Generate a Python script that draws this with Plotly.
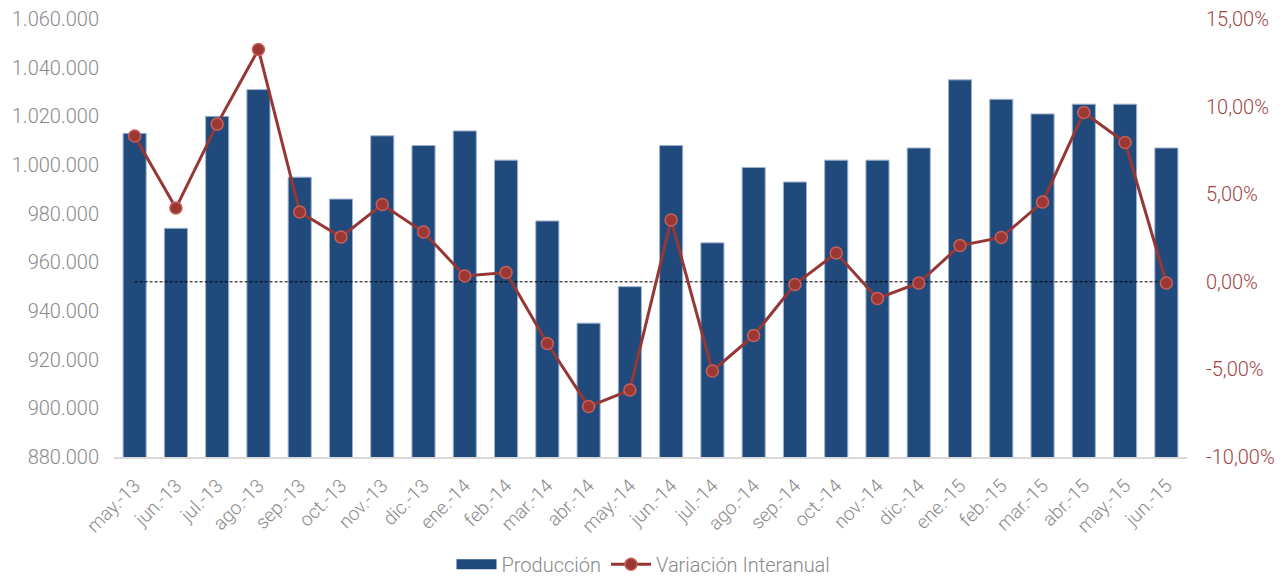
import plotly.graph_objects as go

categories = ["may.-13", "jun.-13", "jul.-13", "ago.-13", "sep.-13", "oct.-13", "nov.-13", "dic.-13",
              "ene.-14", "feb.-14", "mar.-14", "abr.-14", "may.-14", "jun.-14", "jul.-14", "ago.-14",
              "sep.-14", "oct.-14", "nov.-14", "dic.-14", "ene.-15", "feb.-15", "mar.-15", "abr.-15",
              "may.-15", "jun.-15"]

produccion = [1013000, 974000, 1020000, 1031000, 995000, 986000, 1012000, 1008000,
              1014000, 1002000, 977000, 935000, 950000, 1008000, 968000, 999000,
              993000, 1002000, 1002000, 1007000, 1035000, 1027000, 1021000, 1025000,
              1025000, 1007000]

variacion = [0.0832, 0.0421, 0.0900, 0.1326, 0.0398, 0.0256, 0.0441, 0.0284,
             0.0033, 0.0053, -0.0352, -0.0712, -0.0618, 0.0353, -0.0509, -0.0307,
             -0.0015, 0.0164, -0.0095, -0.0007, 0.0207, 0.0253, 0.0455, 0.0966,
             0.0795, -0.0007]

left_ticks = [880000, 900000, 920000, 940000, 960000, 980000, 1000000, 1020000, 1040000, 1060000]
right_ticks = [-0.10, -0.05, 0.0, 0.05, 0.10, 0.15]

zero_ref = [0.0 for _ in categories]


def fmt_thousands(v):
    return f"{v:,.0f}".replace(",", ".")


def fmt_pct(v):
    return f"{v * 100:.2f}".replace(".", ",") + "%"


FONT = "Roboto"
GRAY = "#8a8a8a"
RED_TXT = "#a0443f"
BLUE = "#214a7c"

fig = go.Figure()

fig.add_trace(go.Bar(
    x=categories, y=produccion, name="Producción", showlegend=False,
    marker=dict(color=BLUE, line=dict(color="#9fb4cf", width=1)),
    yaxis="y",
))

# legend proxy for the bar series (wide rectangle swatch)
fig.add_trace(go.Scatter(
    x=[None], y=[None], name="Producción", mode="lines",
    line=dict(color=BLUE, width=14), yaxis="y", hoverinfo="skip",
))

fig.add_trace(go.Scatter(
    x=categories, y=zero_ref, mode="lines", yaxis="y2", showlegend=False,
    line=dict(color="#000000", width=1, dash="3px,2px"), hoverinfo="skip",
))

fig.add_trace(go.Scatter(
    x=categories, y=variacion, name="Variación Interanual", mode="lines+markers",
    yaxis="y2",
    line=dict(color="#953735", width=3),
    marker=dict(size=12, color="#9b3834", line=dict(color="#c9605a", width=1.5)),
))

fig.update_layout(
    width=1287, height=577,
    margin=dict(l=114, r=100, t=19, b=120, autoexpand=False),
    paper_bgcolor="white", plot_bgcolor="white",
    bargap=0.44,
    font=dict(family=FONT, color=GRAY, size=20, weight=300),
    xaxis=dict(
        type="category", range=[-0.5, len(categories) - 0.5],
        tickangle=-45, showgrid=False, automargin=False,
        showline=True, linecolor="#d9d9d9", linewidth=2,
        ticks="", ticklabelstandoff=8,
        tickfont=dict(size=19, color=GRAY, family=FONT, weight=300),
    ),
    yaxis=dict(
        range=[880000, 1060000], tickvals=left_ticks,
        ticktext=[fmt_thousands(v) for v in left_ticks],
        showgrid=False, zeroline=False, ticks="", automargin=False,
        ticklabelstandoff=14,
        tickfont=dict(size=20, color=GRAY, family=FONT, weight=300),
    ),
    yaxis2=dict(
        range=[-0.10, 0.15], tickvals=right_ticks,
        ticktext=[fmt_pct(v) for v in right_ticks],
        overlaying="y", side="right", showgrid=False, zeroline=False, ticks="",
        automargin=False, ticklabelstandoff=18,
        tickfont=dict(size=20, color=RED_TXT, family=FONT, weight=300),
    ),
    legend=dict(
        orientation="h", xref="container", x=0.5, xanchor="center",
        y=-0.245, yanchor="middle", itemwidth=40,
        font=dict(size=20, color=GRAY, family=FONT, weight=300),
        traceorder="normal",
    ),
)

fig.write_html(
    "out.html",
    config={"displayModeBar": False},
    post_script="document.body.style.margin='0';document.body.style.padding='0';"
                "document.documentElement.style.overflow='hidden';",
)
